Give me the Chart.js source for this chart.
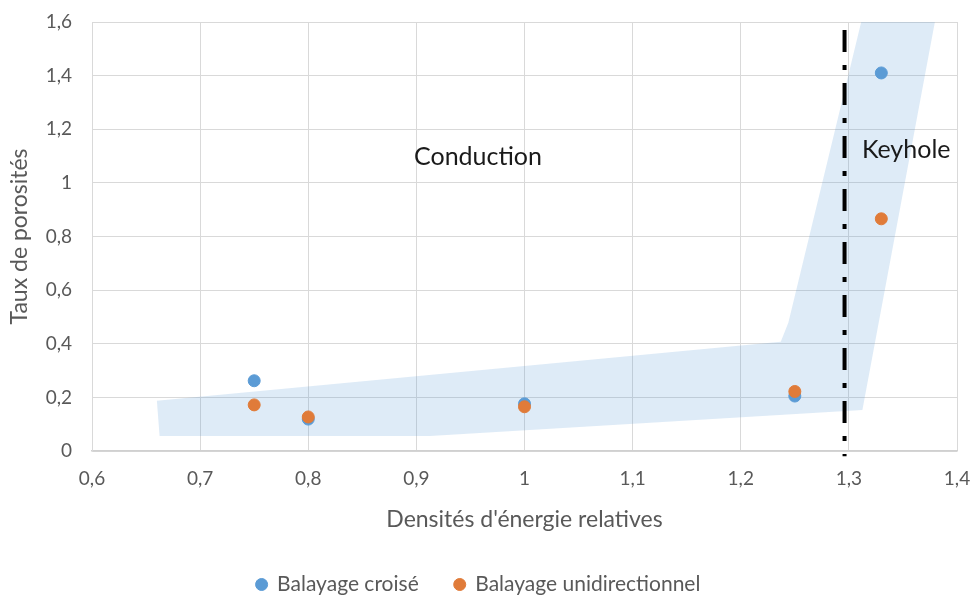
<!DOCTYPE html>
<html>
<head>
<meta charset="utf-8">
<script src="https://cdn.jsdelivr.net/npm/chart.js@4"></script>
<style>
  html, body { margin: 0; padding: 0; background: #fff; }
  #wrap { width: 975px; height: 596px; }
</style>
</head>
<body>
<div id="wrap"><canvas id="chart" width="975" height="596"></canvas></div>
<script>
// data
const crossX = [0.75, 0.80, 1.00, 1.25, 1.33];
const crossY = [0.262, 0.119, 0.176, 0.205, 1.41];
const uniX = [0.75, 0.80, 1.00, 1.25, 1.33];
const uniY = [0.172, 0.127, 0.165, 0.222, 0.866];

// shaded zone outline (x, y)
const zoneX = [0.660, 1.237, 1.244, 1.312, 1.380, 1.3125, 0.9125, 0.6625, 0.660];
const zoneY = [0.187, 0.407, 0.478, 1.610, 1.610, 0.153, 0.056, 0.056, 0.187];

// limit between conduction and keyhole (drawn top to bottom)
const limitX = 1.296;
const limitY = [1.57, -0.02];

const labels = ["Balayage croisé", "Balayage unidirectionnel"];
const notes = [
  { text: "Conduction", x: 0.957, y: 1.097 },
  { text: "Keyhole", x: 1.353, y: 1.123 }
];

const toPts = (xs, ys) => xs.map((x, i) => ({ x: x, y: ys[i] }));

const FONT = "Lato, 'Open Sans', sans-serif";
const GREY = "#595959";

// text annotations in the plot
const notesPlugin = {
  id: "notes",
  afterDatasetsDraw(chart) {
    const ctx = chart.ctx;
    const xs = chart.scales.x, ys = chart.scales.y;
    ctx.save();
    ctx.font = "25px " + FONT;
    ctx.fillStyle = "#1a1a1a";
    ctx.textAlign = "center";
    ctx.textBaseline = "middle";
    notes.forEach(n => {
      ctx.fillText(n.text, xs.getPixelForValue(n.x), ys.getPixelForValue(n.y));
    });
    ctx.restore();
  }
};

const ctx = document.getElementById("chart").getContext("2d");

new Chart(ctx, {
  type: "scatter",
  data: {
    datasets: [
      {
        label: labels[0],
        data: toPts(crossX, crossY),
        backgroundColor: "#5B9BD5",
        borderColor: "#5B9BD5",
        pointRadius: 6,
        pointHoverRadius: 6,
        order: 2
      },
      {
        label: labels[1],
        data: toPts(uniX, uniY),
        backgroundColor: "#E07B39",
        borderColor: "#E07B39",
        pointRadius: 6,
        pointHoverRadius: 6,
        order: 1
      },
      {
        label: "zone",
        type: "line",
        data: toPts(zoneX, zoneY),
        showLine: true,
        fill: "shape",
        backgroundColor: "rgba(91, 155, 213, 0.2)",
        borderWidth: 0,
        borderColor: "rgba(0,0,0,0)",
        pointRadius: 0,
        tension: 0,
        order: 4
      },
      {
        label: "limite",
        type: "line",
        data: limitY.map(y => ({ x: limitX, y: y })),
        showLine: true,
        fill: false,
        borderColor: "#000",
        borderWidth: 4,
        borderDash: [22, 13, 5, 13],
        pointRadius: 0,
        clip: false,
        order: 3
      }
    ]
  },
  options: {
    responsive: false,
    animation: false,
    layout: { padding: { left: 0, right: 18, top: 22, bottom: -9 } },
    plugins: {
      legend: {
        position: "bottom",
        labels: {
          filter: (item) => labels.includes(item.text),
          sort: (a, b) => a.datasetIndex - b.datasetIndex,
          usePointStyle: true,
          pointStyle: "circle",
          boxWidth: 10,
          boxHeight: 8.5,
          padding: 36,
          color: GREY,
          font: { family: FONT, size: 21 }
        }
      },
      tooltip: { enabled: false }
    },
    scales: {
      x: {
        type: "linear",
        min: 0.6,
        max: 1.4,
        ticks: {
          stepSize: 0.1,
          padding: 16,
          color: GREY,
          font: { family: FONT, size: 19 },
          callback: (v) => Number(v.toFixed(1)).toString().replace(".", ",")
        },
        grid: { color: "#d9d9d9", drawTicks: false },
        border: { color: "#d0d0d0", width: 1.5 },
        title: {
          display: true,
          text: "Densités d'énergie relatives",
          color: GREY,
          font: { family: FONT, size: 23 },
          padding: { top: 0, bottom: 5 }
        },
        afterFit: (s) => {
          s.height = 87;
          s.paddingLeft = 0;
          s.paddingRight = 0;
        }
      },
      y: {
        type: "linear",
        min: 0,
        max: 1.6,
        ticks: {
          stepSize: 0.2,
          padding: 20,
          color: GREY,
          font: { family: FONT, size: 19 },
          callback: (v) => Number(v.toFixed(1)).toString().replace(".", ",")
        },
        grid: { color: "#d9d9d9", drawTicks: false },
        border: { color: "#d9d9d9" },
        title: {
          display: true,
          text: "Taux de porosités",
          color: GREY,
          font: { family: FONT, size: 23 },
          padding: { top: 6, bottom: 0 }
        },
        afterFit: (s) => {
          s.width = 92;
          s.paddingTop = 0;
          s.paddingBottom = 0;
        }
      }
    }
  },
  plugins: [notesPlugin]
});
</script>
</body>
</html>
